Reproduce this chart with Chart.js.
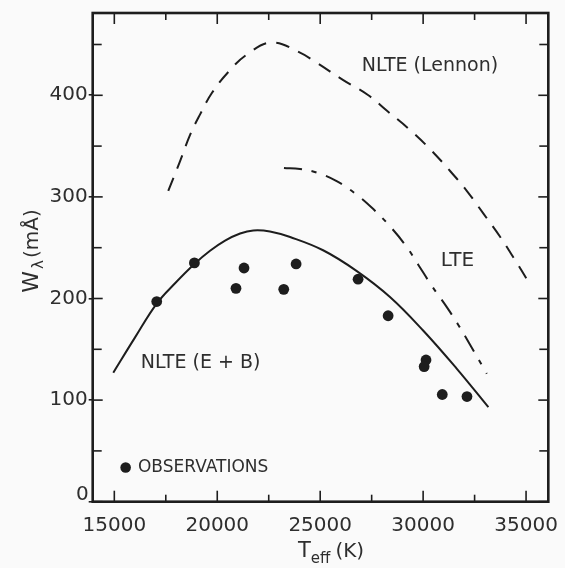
<!DOCTYPE html>
<html>
<head>
<meta charset="utf-8">
<script src="https://cdn.jsdelivr.net/npm/chart.js@4.4.0/dist/chart.umd.min.js"></script>
<style>
  body { margin: 0; background: #fafafa; }
  #wrap { width: 565px; height: 568px; }
</style>
</head>
<body>
<div id="wrap"><canvas id="chart" width="565" height="568"></canvas></div>
<script>
// observations
const teffObs = [17060, 18890, 20910, 21300, 23230, 23830, 26840, 28300, 30140, 30050, 30930, 32130]
const wObs    = [197, 235, 210, 230, 209, 234, 219, 183, 139.5, 133, 105.5, 103.5]

// NLTE (E+B) solid curve
const teffEB = [14950, 16000, 17060, 17950, 18890, 19650, 20380, 21110, 21750, 22560, 23540, 25140, 26780, 28390, 30000, 31630, 33170]
const wEB    = [127, 161.5, 195, 215, 234, 247, 257, 264, 267, 266, 260.5, 247.5, 227, 201.5, 168.5, 131, 93]

// NLTE (Lennon) dashed curve
const teffLennon = [17620, 18190, 18680, 19160, 19730, 20540, 21430, 22650, 24020, 24830, 26120, 27340, 28230, 29360, 30340, 31310, 32120, 32930, 33730, 34460, 35190]
const wLennon    = [306, 335, 361, 381, 402, 423, 440, 452, 442, 432, 415, 400, 385, 366, 347, 325.5, 306, 283.5, 261, 238, 214]

// LTE dash-dot curve
const teffLTE = [23240, 24020, 24830, 25800, 26690, 27580, 28480, 29210, 29770, 30420, 31150, 31710, 32280, 33090]
const wLTE    = [328.5, 327.5, 324, 315.5, 303.5, 288, 269, 250.5, 233, 212.5, 191.5, 174, 154.5, 126]

const xMajor = [15000, 20000, 25000, 30000, 35000]
const xMinor = [17500, 22500, 27500, 32500]
const yMajor = [0, 100, 200, 300, 400]
const yMinor = [50, 150, 250, 350, 450]

const ink = '#1d1d1d'
const textInk = '#2e2e2e'
const FONT = '"DejaVu Sans", sans-serif'

function pts(xs, ys) {
    return xs.map((x, i) => ({ x: x, y: ys[i] }))
}

const framePlugin = {
    id: 'frame',
    afterDraw(chart) {
        const ctx = chart.ctx
        const a = chart.chartArea
        const xs = chart.scales.x
        const ys = chart.scales.y
        ctx.save()
        ctx.strokeStyle = ink
        ctx.lineWidth = 1.6
        // inward ticks on all four sides
        const tickX = (vals, len) => vals.forEach(v => {
            const px = xs.getPixelForValue(v)
            ctx.beginPath(); ctx.moveTo(px, a.bottom); ctx.lineTo(px, a.bottom - len); ctx.stroke()
            ctx.beginPath(); ctx.moveTo(px, a.top); ctx.lineTo(px, a.top + len); ctx.stroke()
        })
        const tickY = (vals, len) => vals.forEach(v => {
            const py = ys.getPixelForValue(v)
            ctx.beginPath(); ctx.moveTo(a.left, py); ctx.lineTo(a.left + len, py); ctx.stroke()
            ctx.beginPath(); ctx.moveTo(a.right, py); ctx.lineTo(a.right - len, py); ctx.stroke()
        })
        tickX(xMajor, 11)
        tickX(xMinor, 7)
        tickY(yMajor, 10)
        tickY(yMinor, 9)

        ctx.lineWidth = 2.6
        ctx.strokeRect(a.left, a.top, a.right - a.left, a.bottom - a.top)

        // the "0" label sits a little above the corner
        ctx.fillStyle = textInk
        ctx.font = '20px ' + FONT
        ctx.textAlign = 'right'
        ctx.textBaseline = 'middle'
        ctx.fillText('0', a.left - 4, ys.getPixelForValue(0) - 7)

        // curve labels
        ctx.textAlign = 'left'
        ctx.font = '19px ' + FONT
        ctx.fillText('NLTE (Lennon)', xs.getPixelForValue(27020), ys.getPixelForValue(429))
        ctx.fillText('NLTE (E + B)', xs.getPixelForValue(16280), ys.getPixelForValue(136))
        ctx.font = '20px ' + FONT
        ctx.fillText('LTE', xs.getPixelForValue(30860), ys.getPixelForValue(237))

        // observations key
        const dx = xs.getPixelForValue(15550), dy = ys.getPixelForValue(33.7)
        ctx.beginPath(); ctx.arc(dx, dy, 5.3, 0, Math.PI * 2); ctx.fillStyle = ink; ctx.fill()
        ctx.fillStyle = textInk
        ctx.font = '17px ' + FONT
        ctx.fillText('OBSERVATIONS', xs.getPixelForValue(16150), dy + 0.5)

        // x axis title  T_eff (K)
        let x = 298
        const yb = 557
        ctx.textBaseline = 'alphabetic'
        ctx.font = '21px ' + FONT
        ctx.fillText('T', x, yb); x += ctx.measureText('T').width
        ctx.font = '15px ' + FONT
        ctx.fillText('eff', x, yb + 6); x += ctx.measureText('eff').width + 5
        ctx.font = '20px ' + FONT
        ctx.fillText('(K)', x, yb)

        // y axis title  W_lambda (mÅ), rotated
        ctx.translate(38, 250)
        ctx.rotate(-Math.PI / 2)
        const parts = [['W', '22px', 0], ['λ', '15px', 5], ['(mÅ)', '20px', 0]]
        let total = 0
        parts.forEach(p => { ctx.font = p[1] + ' ' + FONT; total += ctx.measureText(p[0]).width + 2 })
        let u = -total / 2
        parts.forEach(p => {
            ctx.font = p[1] + ' ' + FONT
            ctx.fillText(p[0], u, p[2])
            u += ctx.measureText(p[0]).width + 2
        })
        ctx.restore()
    }
}

const ctx = document.getElementById('chart').getContext('2d')
new Chart(ctx, {
    data: {
        datasets: [
            {
                type: 'line',
                data: pts(teffLennon, wLennon),
                borderColor: ink,
                borderWidth: 2,
                borderDash: [14, 10],
                pointRadius: 0,
                tension: 0.4
            },
            {
                type: 'line',
                data: pts(teffLTE, wLTE),
                borderColor: ink,
                borderWidth: 2,
                borderDash: [18, 10, 5, 10],
                pointRadius: 0,
                tension: 0.4
            },
            {
                type: 'line',
                data: pts(teffEB, wEB),
                borderColor: ink,
                borderWidth: 2,
                pointRadius: 0,
                tension: 0.4
            },
            {
                type: 'scatter',
                data: pts(teffObs, wObs),
                backgroundColor: ink,
                borderColor: ink,
                pointRadius: 5.4,
                borderWidth: 0
            }
        ]
    },
    options: {
        responsive: false,
        animation: false,
        layout: { padding: { top: 6.5, right: 16.7, left: 0, bottom: 0 } },
        plugins: { legend: { display: false }, tooltip: { enabled: false } },
        scales: {
            x: {
                type: 'linear',
                min: 13950,
                max: 36080,
                afterBuildTicks: s => { s.ticks = xMajor.map(v => ({ value: v })) },
                afterFit: s => { s.height = 66.3 },
                grid: { display: false },
                border: { display: false },
                ticks: {
                    color: textInk,
                    font: { family: FONT, size: 20 },
                    padding: 4,
                    maxRotation: 0,
                    autoSkip: false,
                    callback: v => String(v)
                }
            },
            y: {
                type: 'linear',
                min: 0,
                max: 481,
                afterBuildTicks: s => { s.ticks = yMajor.map(v => ({ value: v })) },
                afterFit: s => { s.width = 92.7 },
                grid: { drawOnChartArea: false, drawTicks: true, tickLength: 4, color: ink, lineWidth: 1.6 },
                border: { display: false },
                ticks: {
                    color: textInk,
                    font: { family: FONT, size: 20 },
                    padding: 1,
                    callback: v => (v === 0 ? '' : String(v))
                }
            }
        }
    },
    plugins: [framePlugin]
})
</script>
</body>
</html>
